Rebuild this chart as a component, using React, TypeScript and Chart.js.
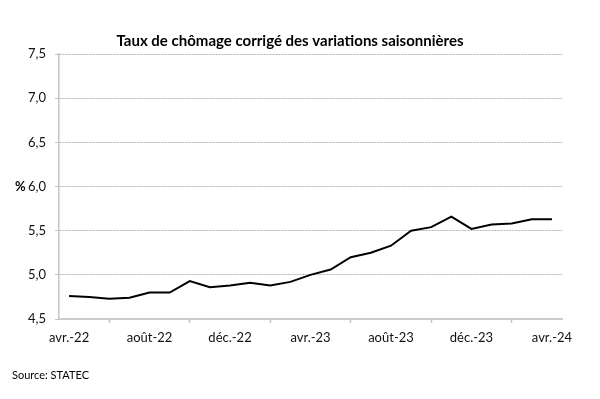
import React, { useEffect, useRef } from "react";
import { Chart, registerables } from "chart.js";

Chart.register(...registerables);

const months: string[] = [
  "avr.-22", "mai-22", "juin-22", "juil.-22", "août-22", "sept.-22", "oct.-22", "nov.-22", "déc.-22",
  "janv.-23", "févr.-23", "mars-23", "avr.-23", "mai-23", "juin-23", "juil.-23", "août-23", "sept.-23",
  "oct.-23", "nov.-23", "déc.-23", "janv.-24", "févr.-24", "mars-24", "avr.-24",
];

const unemploymentRate: number[] = [
  4.76, 4.75, 4.73, 4.74, 4.80, 4.80, 4.93, 4.86, 4.88,
  4.91, 4.88, 4.92, 5.00, 5.06, 5.20, 5.25, 5.33, 5.50,
  5.54, 5.66, 5.52, 5.57, 5.58, 5.63, 5.63,
];

const yMin = 4.5;
const yMax = 7.5;
const yStep = 0.5;

const titleText = "Taux de chômage corrigé des variations saisonnières";
const yUnit = "%";
const sourceText = "Source: STATEC";

const FONT = "Lato, 'Open Sans', sans-serif";

export default function App() {
  const ref = useRef<HTMLCanvasElement | null>(null);

  useEffect(() => {
    const canvas = ref.current;
    if (!canvas) return;

    const textPlugin = {
      id: "extraText",
      afterDraw(chart: any) {
        const ctx = chart.ctx;
        const yScale = chart.scales.y;
        ctx.save();
        ctx.fillStyle = "#000";
        ctx.textBaseline = "middle";
        ctx.textAlign = "center";
        ctx.font = `bold 15px ${FONT}`;
        ctx.fillText(titleText, 290, 41);
        ctx.textAlign = "left";
        ctx.font = `bold 13px ${FONT}`;
        ctx.fillText(yUnit, 15, yScale.getPixelForValue(6.0));
        ctx.font = `11px ${FONT}`;
        ctx.fillText(sourceText, 12, 375);
        ctx.restore();
      },
    };

    const chart = new Chart(canvas, {
      type: "line",
      data: {
        labels: months,
        datasets: [
          {
            data: unemploymentRate,
            borderColor: "#000",
            borderWidth: 2,
            pointRadius: 0,
            tension: 0,
            fill: false,
          },
        ],
      },
      options: {
        responsive: false,
        animation: false,
        layout: { padding: { top: 54, right: 38, left: 0, bottom: 0 } },
        plugins: {
          legend: { display: false },
          tooltip: { enabled: false },
          title: { display: false },
        },
        scales: {
          x: {
            type: "category",
            offset: true,
            afterFit(scale: any) {
              scale.height = 80;
            },
            grid: {
              offset: true,
              drawOnChartArea: false,
              color: "#c4c4c4",
              tickColor: "#c4c4c4",
              tickLength: 4,
              tickWidth: 1.5,
            },
            border: { display: true, color: "#cccccc", width: 2 },
            ticks: {
              autoSkip: false,
              maxRotation: 0,
              minRotation: 0,
              padding: 7,
              color: "#111",
              font: { family: FONT, size: 13 },
              callback(_v: any, i: number) {
                return i % 4 === 0 ? months[i] : null;
              },
            },
          },
          y: {
            min: yMin,
            max: yMax,
            afterFit(scale: any) {
              scale.width = 59;
            },
            grid: {
              color: "#b4b4b4",
              tickColor: "#c4c4c4",
              tickLength: 4,
              tickBorderDash: [],
              lineWidth: 1,
            },
            border: { display: true, color: "#c4c4c4", width: 1.5, dash: [2, 1] },
            ticks: {
              stepSize: yStep,
              padding: 9,
              color: "#111",
              font: { family: FONT, size: 13 },
              callback(v: any) {
                return Number(v).toFixed(1).replace(".", ",");
              },
            },
          },
        },
      },
      plugins: [textPlugin],
    } as any);

    return () => chart.destroy();
  }, []);

  return (
    <div style={{ position: "fixed", left: 0, top: 0, width: 600, height: 399, background: "#fff" }}>
      <canvas ref={ref} width={600} height={399} style={{ width: 600, height: 399 }} />
    </div>
  );
}
